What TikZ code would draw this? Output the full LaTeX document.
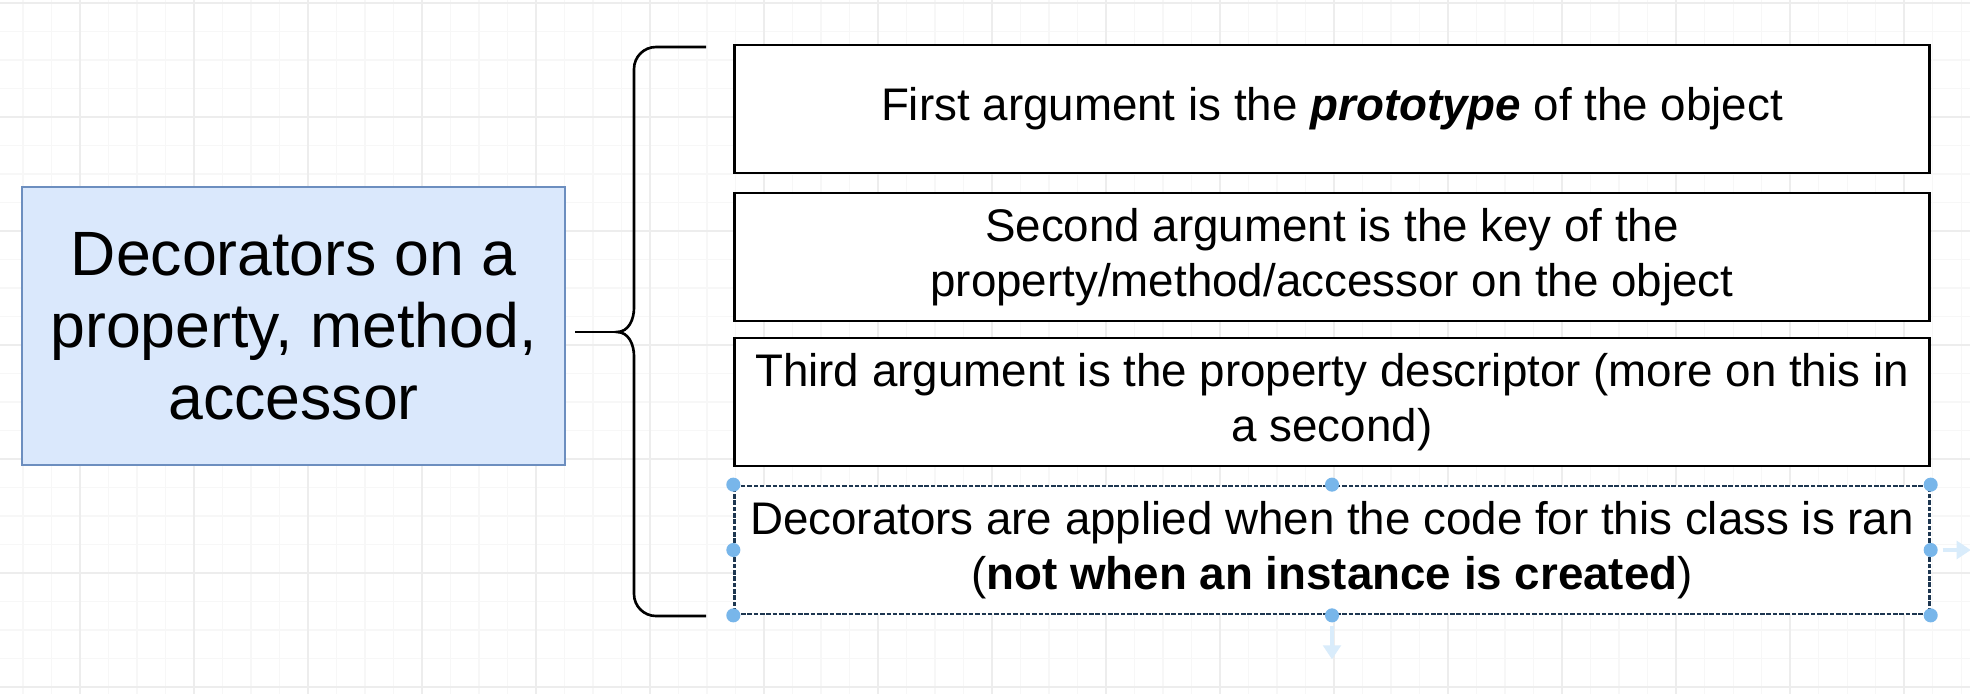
\documentclass[tikz,border=0pt]{standalone}
\usepackage{fontspec}
\setmainfont{Liberation Sans}
\usepackage{xcolor}
\usetikzlibrary{arrows.meta,positioning}
\definecolor{boxblue}{HTML}{DAE8FC}
\definecolor{boxedge}{HTML}{6C8EBF}
\definecolor{handle}{HTML}{78B6EA}
\definecolor{hint}{HTML}{D9ECFB}
\definecolor{seledge}{HTML}{1D3650}

\begin{document}
\begin{tikzpicture}[x=0.01cm, y=-0.01cm,
  item/.style={draw=black, line width=0.75pt, fill=white, minimum width=11.94cm,
     minimum height=1.28cm, inner sep=0pt, align=center, font=\fontsize{13}{15.6}\selectfont},
  topic/.style={draw=boxedge, line width=0.6pt, fill=boxblue, minimum width=5.43cm,
     minimum height=2.78cm, inner sep=0pt, align=center, font=\fontsize{17.8}{20.5}\selectfont},
  brace/.style={line width=0.75pt, black},
  gridminor/.style={line width=0.3pt, black!3},
  gridmajor/.style={line width=0.4pt, black!7}]
\useasboundingbox (0,0) rectangle (1970,694);
\fill[white] (0,0) rectangle (1970,694);
\foreach \i in {0,...,68}
  \draw[gridminor] ({23+28.5*\i},0) -- ({23+28.5*\i},694);
\foreach \i in {0,...,24}
  \draw[gridminor] (0,{3+28.5*\i}) -- (1970,{3+28.5*\i});
\foreach \i in {0,...,16}
  \draw[gridmajor] ({80+114*\i},0) -- ({80+114*\i},694);
\foreach \i in {0,...,6}
  \draw[gridmajor] (0,{3+114*\i}) -- (1970,{3+114*\i});
\def\cx{1332}
\node[topic] (topic) at (293.5,326) {Decorators on a\\property, method,\\accessor};
\node[item] (first)  at (\cx,109) {First argument is the \textbf{\textit{prototype}} of the object};
\node[item] (second) at (\cx,257) {Second argument is the key of the\\property/method/accessor on the object};
\node[item] (third)  at (\cx,402) {Third argument is the property descriptor (more on this in\\a second)};
\node[item, draw=seledge, dash pattern=on 1.3pt off 0.5pt] (fourth) at (\cx,550)
  {Decorators are applied when the code for this class is ran\\(\textbf{not when an instance is created})};
\coordinate (tip)  at (617,332);
\coordinate (stub) at (575,332);
\coordinate (btop) at (706,47);
\coordinate (bbot) at (706,616);
\draw[brace] (btop) -- (656,47) to[out=180,in=90] (634,69) -- (634,308)
  to[out=-90,in=0] (tip) to[out=0,in=90] (634,356) -- (634,594)
  to[out=-90,in=180] (656,616) -- (bbot);
\draw[brace] (stub) -- (tip);
\foreach \a in {north west,north,north east,west,east,south west,south,south east}
  \fill[handle] (fourth.\a) circle[radius=2pt];
\draw[hint, line width=1.4pt, -{Triangle[width=5pt,length=4pt]}]
  ([xshift=3.4pt]fourth.east) -- ([xshift=11.4pt]fourth.east);
\draw[hint, line width=1.4pt, -{Triangle[width=5pt,length=4pt]}]
  ([yshift=-3.1pt]fourth.south) -- ([yshift=-12.5pt]fourth.south);
\end{tikzpicture}
\end{document}
